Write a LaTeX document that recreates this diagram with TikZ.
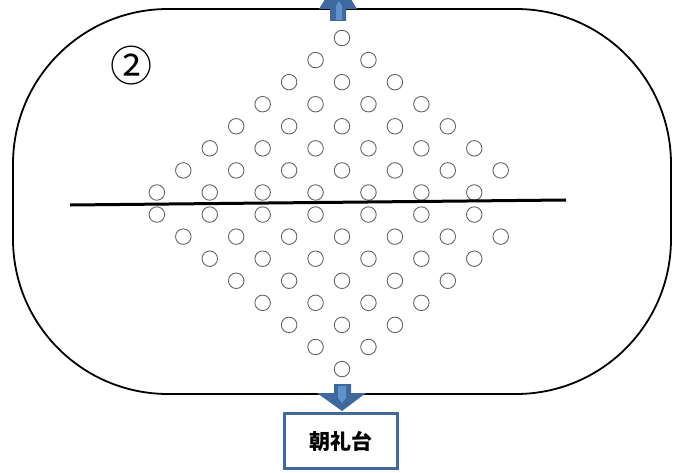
\documentclass[tikz,border=0pt]{standalone}
\usepackage{fontspec}
\newfontfamily\cjk{Noto Sans CJK JP}
\definecolor{arrowdark}{RGB}{63,104,158}
\definecolor{arrowlight}{RGB}{95,145,205}
\definecolor{boxblue}{RGB}{65,105,160}
\definecolor{dotgray}{RGB}{100,100,100}
\begin{document}
\begin{tikzpicture}[x=1pt,y=-1pt,
  dot/.style={circle,draw=dotgray,line width=0.9pt,minimum size=15.5pt,inner sep=0pt},
  track/.style={draw=black,line width=1.8pt,rounded corners=155pt},
  axisline/.style={draw=black,line width=3pt},
  blockarrow/.style={fill=arrowdark,draw=none},
  blockarrowinner/.style={fill=arrowlight,draw=none},
  daisbox/.style={draw=boxblue,line width=3pt,fill=white,minimum width=113pt,minimum height=55pt,inner sep=0pt,font=\cjk\bfseries\fontsize{21}{24}\selectfont}]
\useasboundingbox (0,0) rectangle (682,473);
% track
\draw[track] (13,9) rectangle (671,394);
% label
\node[font=\cjk\fontsize{42}{46}\selectfont,inner sep=0pt] (num) at (131,66) {②};
% dots
\foreach \r/\list in {0/{0},1/{-1,1},2/{-2,0,2},3/{-3,-1,1,3},4/{-4,-2,0,2,4},
  5/{-5,-3,-1,1,3,5},6/{-6,-4,-2,0,2,4,6},7/{-7,-5,-3,-1,1,3,5},8/{-7,-5,-3,-1,1,3,5},
  9/{-6,-4,-2,0,2,4,6},10/{-5,-3,-1,1,3,5},11/{-4,-2,0,2,4},12/{-3,-1,1,3},
  13/{-2,0,2},14/{-1,1},15/{0}}{
  \foreach \k in \list {
    \node[dot] (d-\r-\k) at ({342+26.45*\k},{38+22.07*\r}) {};
  }
}
% line
\coordinate (lineL) at (70,205);
\coordinate (lineR) at (566,200);
\draw[axisline] (lineL) -- (lineR);
% top arrow
\coordinate (topA) at (338,-22);
\fill[blockarrow] (330,21) -- (346,21) -- (346,9) -- (357,9) -- (topA) -- (319,9) -- (330,9) -- cycle;
\fill[blockarrowinner] (336,20) -- (342,20) -- (342,6) -- (339,1) -- (336,6) -- cycle;
% bottom arrow
\coordinate (botA) at (342,411);
\fill[blockarrow] (334,384) -- (351,384) -- (351,393) -- (366,393) -- (botA) -- (317,393) -- (334,393) -- cycle;
\fill[blockarrowinner] (338,386) -- (346,386) -- (346,398) -- (342,403) -- (338,398) -- cycle;
% dais
\node[daisbox] (dais) at (341,441) {朝礼台};
\end{tikzpicture}
\end{document}
